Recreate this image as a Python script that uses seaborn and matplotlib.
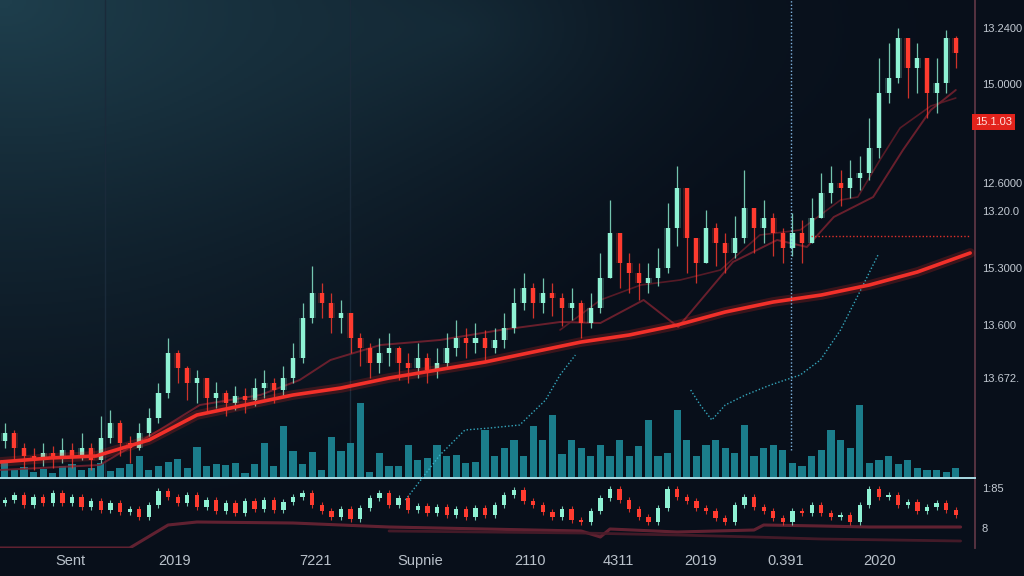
import numpy as np
import pandas as pd
import matplotlib
matplotlib.use("Agg")
import matplotlib.pyplot as plt
from matplotlib import font_manager
import seaborn as sns

sns.set_theme(style="dark")
plt.rcParams['font.family'] = ['DejaVu Sans']

_names = {f.name for f in font_manager.fontManager.ttflist}
if 'Liberation Sans Narrow' in _names:
    LABEL_FONT, LABEL_SIZE = ['Liberation Sans Narrow', 'DejaVu Sans'], 10.5
elif 'Liberation Sans' in _names:
    LABEL_FONT, LABEL_SIZE = ['Liberation Sans', 'DejaVu Sans'], 8
else:
    LABEL_FONT, LABEL_SIZE = ['DejaVu Sans'], 7.2
if 'Liberation Sans' in _names:
    BOTTOM_FONT, BOTTOM_SIZE = ['Liberation Sans', 'DejaVu Sans'], 10.5
else:
    BOTTOM_FONT, BOTTOM_SIZE = ['DejaVu Sans'], 9.5

# ---------------- data ----------------
close = [45, 30, 22, 18, 25, 20, 28, 22, 30, 18,
         40, 55, 35, 30, 45, 60, 85, 125, 110, 95,
         100, 80, 85, 75, 82, 78, 90, 95, 88, 100,
         120, 160, 185, 175, 160, 165, 140, 130, 115, 125,
         130, 115, 110, 120, 108, 115, 130, 140, 135, 140,
         130, 138, 150, 175, 190, 175, 185, 180, 170, 175,
         155, 170, 200, 245, 215, 205, 195, 200, 210, 250,
         290, 240, 215, 250, 235, 225, 240, 270, 250, 260,
         245, 230, 245, 235, 260, 285, 295, 290, 300, 305,
         330, 385, 400, 440, 410, 420, 385, 395, 440, 425]
high = [55, 48, 35, 30, 35, 32, 40, 35, 45, 35,
        62, 68, 58, 42, 55, 70, 95, 140, 128, 112,
        108, 100, 96, 88, 92, 90, 100, 108, 100, 112,
        135, 175, 212, 195, 185, 178, 165, 145, 135, 140,
        145, 132, 125, 135, 125, 130, 145, 158, 150, 155,
        148, 150, 165, 190, 205, 195, 200, 195, 185, 190,
        178, 185, 225, 278, 245, 225, 215, 215, 230, 275,
        312, 280, 240, 268, 255, 245, 262, 308, 270, 278,
        265, 250, 265, 258, 280, 305, 312, 308, 318, 322,
        360, 420, 435, 450, 440, 435, 410, 420, 448, 442]
low = [30, 18, 10, 8, 12, 10, 15, 10, 18, 8,
       15, 35, 22, 15, 28, 42, 55, 80, 95, 78,
       75, 65, 70, 62, 68, 65, 72, 80, 75, 82,
       95, 115, 155, 160, 145, 145, 125, 112, 100, 105,
       112, 98, 95, 100, 95, 100, 110, 122, 120, 125,
       118, 125, 130, 145, 168, 160, 165, 162, 152, 158,
       140, 150, 165, 200, 190, 185, 178, 185, 192, 205,
       232, 205, 195, 215, 212, 205, 220, 235, 225, 235,
       222, 215, 222, 215, 235, 260, 275, 272, 280, 288,
       298, 320, 375, 395, 380, 385, 360, 365, 385, 410]
volume = [18, 8, 11, 6, 9, 5, 12, 14, 8, 10,
          15, 7, 10, 14, 22, 8, 12, 16, 19, 10,
          31, 12, 14, 13, 15, 5, 14, 35, 12, 52,
          27, 14, 26, 8, 41, 27, 35, 75, 6, 25,
          12, 12, 33, 18, 20, 33, 22, 23, 15, 16,
          48, 22, 30, 38, 22, 52, 38, 63, 24, 38,
          30, 22, 33, 22, 38, 22, 32, 58, 22, 25,
          68, 38, 22, 33, 38, 30, 25, 53, 22, 30,
          33, 28, 15, 12, 22, 28, 48, 38, 30, 73,
          15, 18, 22, 14, 18, 10, 8, 8, 6, 10]

ma_x = [-0.5, 4.7, 9.5, 15, 20, 25, 30, 35, 40, 45, 50,
        55, 60, 65, 70, 75, 80, 85, 90, 95, 100.5]
ma_y = [16, 20, 22, 38, 63, 73, 83, 90, 100, 108, 116,
        126, 136, 143, 153, 166, 176, 183, 193, 206, 225]

ma2_x = [-0.5, 9.9, 16.1, 20.3, 26.6, 30.7, 33.9, 39.1, 45.3, 51.6, 57.8,
         62, 66.5, 70.1, 75.8, 80.4, 83.5, 86.3, 90.4, 93.5, 96.4, 99]
ma2_y = [8, 13, 48, 73, 83, 98, 118, 133, 138, 148, 156,
         155, 178, 151, 216, 238, 231, 261, 281, 328, 368, 388]

ma3_x = [57.8, 62, 66.2, 70.3, 74.5, 78.6, 82.8, 87, 88.8, 91.1, 93.2, 96.4, 99]
ma3_y = [148, 178, 193, 198, 208, 243, 248, 278, 281, 318, 350, 372, 380]

cyan_x = [41.7, 45.3, 47.9, 50.5, 53.6, 56.3, 57.8, 59.4, np.nan,
          71.4, 72.4, 73.6, 75.0, 77.1, 79.7, 82.8, 84.9, 87.0, 89.1, 90.9]
cyan_y = [-22, 23, 48, 50, 53, 78, 103, 123, np.nan,
          88, 73, 58, 73, 83, 93, 103, 118, 148, 188, 223]

sub_close = [55, 60, 50, 58, 52, 62, 52, 58, 48, 54,
             45, 52, 43, 46, 38, 50, 64, 58, 52, 60,
             48, 55, 44, 52, 42, 54, 46, 55, 45, 53,
             58, 62, 50, 44, 38, 46, 36, 47, 57, 62,
             50, 57, 45, 49, 42, 48, 40, 46, 38, 47,
             40, 50, 60, 65, 54, 50, 43, 38, 46, 35,
             33, 44, 57, 66, 55, 46, 38, 33, 47, 66,
             58, 54, 47, 44, 37, 33, 50, 58, 48, 44,
             37, 33, 44, 42, 50, 42, 38, 40, 33, 50,
             66, 58, 60, 50, 53, 44, 48, 52, 45, 40]
subA_x = [-0.5, 13, 17, 20, 30, 40, 50, 60, 62, 63, 70, 78, 79, 85, 90, 99.5]
subA_y = [7, 7, 30, 33, 32, 28, 26, 24, 18, 26, 23, 25, 30, 29, 28, 28]
subB_x = [40, 50, 60, 70, 78, 85, 99.5]
subB_y = [24, 23, 22, 20, 18, 16, 14]

right_ticks = [450, 394, 295, 267, 210, 153, 100]
right_labels = ["13.2400", "15.0000", "12.6000", "13.20.0", "15.3000", "13.600", "13.672."]
badge_value, badge_label = 356, "15.1.03"
sub_ticks = [67, 27]
sub_labels = ["1:85", "8"]
bottom_ticks = [6.8, 17.7, 32.3, 43.2, 54.7, 63.9, 72.4, 81.3, 91.1]
bottom_labels = ["Sent", "2019", "7221", "Supnie", "2110", "4311", "2019", "0.391", "2020"]

# ---------------- figure ----------------
W, H = 1024, 576
fig = plt.figure(figsize=(W / 100, H / 100), dpi=100)


def rect(x0, y0, x1, y1):
    return [x0 / W, 1 - y1 / H, (x1 - x0) / W, (y1 - y0) / H]


# background gradient
bg = fig.add_axes([0, 0, 1, 1])
bg.axis('off')
gy, gx = np.mgrid[0:1:288j, 0:1:512j]
base = np.array([0x08, 0x0f, 0x1a]) / 255
glow = np.array([0x1e, 0x3e, 0x4c]) / 255
d = np.sqrt((gx / 0.75) ** 2 + (gy / 0.95) ** 2)
w = np.clip(1 - d, 0, 1) ** 1.4
d2 = np.sqrt(((gx - 0.45) / 0.6) ** 2 + ((gy - 0.05) / 0.5) ** 2)
w2 = 0.3 * np.clip(1 - d2, 0, 1) ** 2
wt = np.clip(w + w2, 0, 1)[..., None]
img = base * (1 - wt) + glow * wt
bg.imshow(img, aspect='auto', extent=[0, 1, 0, 1], origin='upper')
bg.set_xlim(0, 1)
bg.set_ylim(0, 1)

n = len(close)
idx = np.arange(n)
opens = [close[0] - 8] + close[:-1]
up_col, dn_col = '#8ff2d4', '#ff3b2f'

# ---------------- main panel ----------------
ax = fig.add_axes(rect(0, 0, 975, 478))
ax.set_facecolor('none')
vol_df = pd.DataFrame({'i': idx, 'v': volume})
sns.barplot(data=vol_df, x='i', y='v', ax=ax, color='#1d8796', width=0.75,
            saturation=1, alpha=0.92, edgecolor='none', linewidth=0, zorder=1)

# faint vertical grid lines
for gxv in [10.4, 35.9]:
    ax.axvline(gxv, color='#1a2a3a', lw=1, zorder=0)

# secondary moving averages
sns.lineplot(x=ma2_x, y=ma2_y, ax=ax, color='#7a2230', lw=1.4, alpha=0.85, zorder=2)
sns.lineplot(x=ma3_x, y=ma3_y, ax=ax, color='#6a1e2a', lw=1.2, alpha=0.8, zorder=2)

# candles
for i in range(n):
    o, c = opens[i], close[i]
    hi = max(high[i], o, c)
    lo = min(low[i], o, c)
    col = up_col if c >= o else dn_col
    ax.vlines(i, lo, hi, color=col, lw=0.9, alpha=0.8, zorder=3)
    ax.bar(i, max(abs(c - o), 2), bottom=min(o, c), width=0.7, color=col,
           alpha=0.22, zorder=3, linewidth=0)
    ax.bar(i, max(abs(c - o), 2), bottom=min(o, c), width=0.42, color=col,
           zorder=4, linewidth=0)

# thick moving average with glow
sns.lineplot(x=ma_x, y=ma_y, ax=ax, color='#ff2a20', lw=7, alpha=0.2, zorder=5)
sns.lineplot(x=ma_x, y=ma_y, ax=ax, color='#f2302a', lw=2.6, zorder=6)

# cyan dotted line
ax.plot(cyan_x, cyan_y, color='#3cc0d8', lw=1.0, ls=(0, (1, 1.5)), alpha=0.85,
        zorder=5, clip_on=False)

# crosshair
ax.vlines(81.8, 28, 478, color='#7fb4e0', lw=1, linestyles=(0, (1, 1.5)), zorder=6)
ax.hlines(242, 83.9, 100.5, color='#e0302a', lw=1, linestyles=(0, (1, 1.5)), zorder=6)

ax.set_xlim(-0.5, 101.0)
ax.set_ylim(0, 478)
ax.set_xlabel('')
ax.set_ylabel('')
ax.set_xticks([])
ax.yaxis.tick_right()
ax.set_yticks(right_ticks)
ax.set_yticklabels(right_labels, family=LABEL_FONT, fontsize=LABEL_SIZE)
ax.tick_params(axis='y', length=0, pad=5, labelcolor='#c3cad3')
for s in ['top', 'left']:
    ax.spines[s].set_visible(False)
ax.spines['right'].set_color('#5c3544')
ax.spines['right'].set_linewidth(1.3)
ax.spines['bottom'].set_color('#a9dbe4')
ax.spines['bottom'].set_linewidth(1.4)
ax.grid(False)

ax.text(1.0, badge_value, badge_label, transform=ax.get_yaxis_transform(),
        ha='left', va='center', fontsize=LABEL_SIZE, family=LABEL_FONT, color='#ffe0dc',
        bbox=dict(boxstyle='square,pad=0.3', fc='#e3231c', ec='none'))

# ---------------- lower panel ----------------
ax2 = fig.add_axes(rect(0, 480, 975, 548))
ax2.set_facecolor('none')
sns.lineplot(x=subA_x, y=subA_y, ax=ax2, color='#6b2434', lw=2.2, alpha=0.9)
sns.lineplot(x=subB_x, y=subB_y, ax=ax2, color='#4a1c2a', lw=2.0, alpha=0.9)
sub_open = [sub_close[0] - 3] + sub_close[:-1]
for i in range(n):
    o, c = sub_open[i], sub_close[i]
    col = up_col if c >= o else dn_col
    ax2.vlines(i, min(o, c) - 3, max(o, c) + 3, color=col, lw=0.8, alpha=0.8)
    ax2.bar(i, max(abs(c - o), 1.2), bottom=min(o, c), width=0.45, color=col, linewidth=0)
ax2.set_xlim(-0.5, 101.0)
ax2.set_ylim(7, 75)
ax2.yaxis.tick_right()
ax2.set_yticks(sub_ticks)
ax2.set_yticklabels(sub_labels, family=LABEL_FONT, fontsize=LABEL_SIZE)
ax2.set_xticks(bottom_ticks)
ax2.set_xticklabels(bottom_labels, family=BOTTOM_FONT, fontsize=BOTTOM_SIZE)
ax2.tick_params(axis='y', length=0, pad=5, labelcolor='#c3cad3')
ax2.tick_params(axis='x', length=0, pad=4, labelcolor='#b9c1ca')
for s in ['top', 'left', 'bottom']:
    ax2.spines[s].set_visible(False)
ax2.spines['right'].set_color('#5c3544')
ax2.spines['right'].set_linewidth(1.3)
ax2.grid(False)

fig.savefig('out.png', dpi=100, facecolor=fig.get_facecolor())
